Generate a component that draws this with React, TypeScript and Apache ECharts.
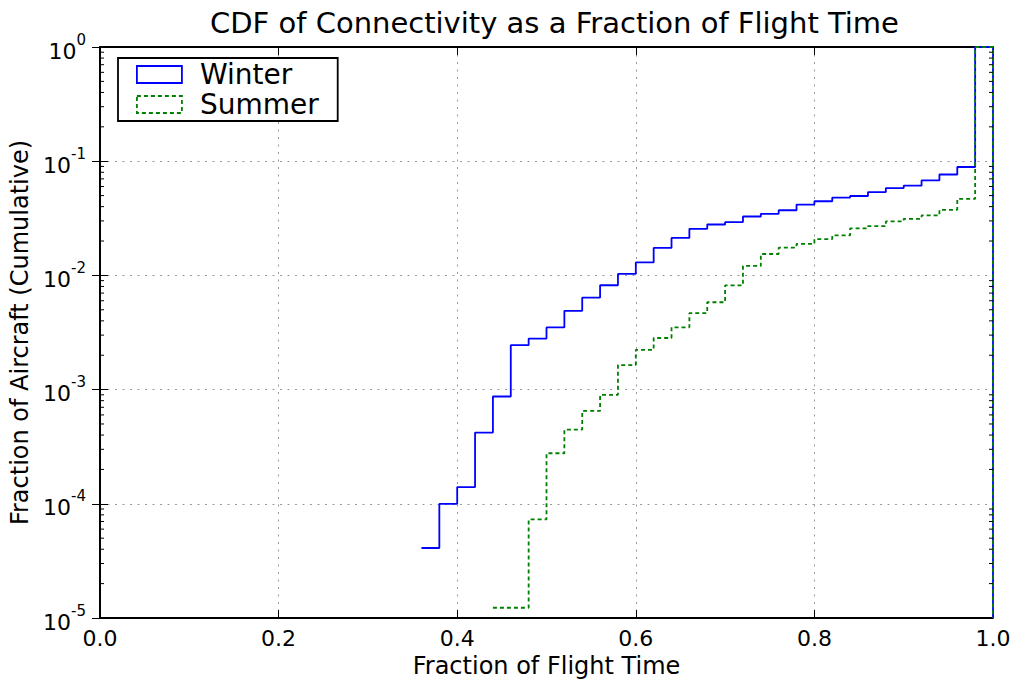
import React, { useEffect, useRef } from "react";
import * as echarts from "echarts";

const binWidth = 0.02;
// Winter: cumulative fraction per bin, bins starting at 0.36
const winterFirstBin = 0.36;
const winterValues = [
  4.1e-5, 1.0e-4, 1.4e-4, 4.2e-4, 8.7e-4, 2.45e-3, 2.8e-3, 3.5e-3, 4.9e-3, 6.4e-3,
  8.2e-3, 1.03e-2, 1.3e-2, 1.74e-2, 2.13e-2, 2.56e-2, 2.79e-2, 2.93e-2, 3.28e-2, 3.46e-2,
  3.72e-2, 4.17e-2, 4.46e-2, 4.8e-2, 4.96e-2, 5.37e-2, 5.82e-2, 6.1e-2, 6.79e-2, 7.65e-2,
  8.9e-2, 1.0,
];
// Summer: bins starting at 0.44
const summerFirstBin = 0.44;
const summerValues = [
  1.23e-5, 1.23e-5, 7.3e-5, 2.77e-4, 4.46e-4, 6.5e-4, 9.0e-4, 1.64e-3, 2.23e-3, 2.83e-3,
  3.51e-3, 4.68e-3, 5.82e-3, 8.18e-3, 1.21e-2, 1.54e-2, 1.75e-2, 1.89e-2, 2.08e-2, 2.24e-2,
  2.58e-2, 2.7e-2, 2.97e-2, 3.13e-2, 3.35e-2, 3.75e-2, 4.67e-2, 1.0,
];
const xTicks = [0.0, 0.2, 0.4, 0.6, 0.8, 1.0];
const yMin = 1e-5;
const yMax = 1;
const minorMantissas = [2, 3, 4, 5, 6, 7, 8, 9];
const decades = [-5, -4, -3, -2, -1];

const seriesNames = ["Winter", "Summer"];
const FONT = "DejaVu Sans";

function stepPoints(first: number, values: number[]) {
  const pts: number[][] = [];
  values.forEach((v, i) => {
    const x0 = +(first + i * binWidth).toFixed(4);
    const x1 = +(first + (i + 1) * binWidth).toFixed(4);
    pts.push([x0, v], [x1, v]);
  });
  const last = pts[pts.length - 1][0];
  pts.push([last, yMin]);
  return pts;
}

export default function App() {
  const ref = useRef<HTMLDivElement>(null);
  useEffect(() => {
    if (!ref.current) return;
    const chart = echarts.init(ref.current, null, { renderer: "svg" });
    const minorData: number[][] = [];
    decades.forEach((d) =>
      minorMantissas.forEach((m) => minorData.push([0, m * Math.pow(10, d)]))
    );
    const supLabel = (v: number) => {
      const e = Math.round(Math.log10(v));
      return `{b|10}{s|${e}}`;
    };
    const rich = {
      b: { fontSize: 22, fontFamily: FONT, color: "#000", verticalAlign: "bottom", lineHeight: 30 },
      s: { fontSize: 15, fontFamily: FONT, color: "#000", verticalAlign: "top", lineHeight: 30 },
    };
    const option: any = {
      animation: false,
      backgroundColor: "#fff",
      textStyle: { fontFamily: FONT },
      title: {
        text: "CDF of Connectivity as a Fraction of Flight Time",
        left: 205,
        top: 3,
        textStyle: { fontFamily: FONT, fontSize: 29, fontWeight: "normal", color: "#000" },
      },
      legend: {
        left: 118,
        top: 58,
        orient: "vertical",
        icon: "rect",
        itemWidth: 45,
        itemHeight: 17,
        itemGap: 2,
        padding: [2.5, 19, 2.5, 18],
        backgroundColor: "#fff",
        borderColor: "#000",
        borderWidth: 1.8,
        borderRadius: 0,
        textStyle: { fontFamily: FONT, fontSize: 28, color: "#000", lineHeight: 28, padding: [0, 0, 0, 13] },
        data: [
          { name: seriesNames[0], itemStyle: { color: "#fff", borderColor: "#0000ff", borderWidth: 1.8 } },
          {
            name: seriesNames[1],
            itemStyle: { color: "#fff", borderColor: "#008000", borderWidth: 1.8, borderType: [4, 3] },
          },
        ],
      },
      grid: { left: 100, right: 25, top: 47, bottom: 61, containLabel: false },
      xAxis: [
        {
          type: "value",
          min: xTicks[0],
          max: xTicks[xTicks.length - 1],
          interval: 0.2,
          name: "Fraction of Flight Time",
          nameLocation: "middle",
          nameGap: 36,
          nameTextStyle: { fontFamily: FONT, fontSize: 24, color: "#000" },
          axisLine: { show: true, lineStyle: { color: "#000", width: 1.8 } },
          axisTick: { show: true, inside: true, length: 8, lineStyle: { color: "#000", width: 1 } },
          axisLabel: {
            fontFamily: FONT,
            fontSize: 22,
            color: "#000",
            margin: 9,
            formatter: (v: number) => v.toFixed(1),
          },
          splitLine: { show: true, lineStyle: { color: "#999", width: 1, type: [2, 5.5] } },
        },
        {
          type: "value",
          position: "top",
          min: xTicks[0],
          max: xTicks[xTicks.length - 1],
          interval: 0.2,
          axisLine: { show: true, lineStyle: { color: "#000", width: 1.8 } },
          axisTick: { show: true, inside: true, length: 8, lineStyle: { color: "#000", width: 1 } },
          axisLabel: { show: false },
          splitLine: { show: false },
        },
      ],
      yAxis: [
        {
          type: "log",
          logBase: 10,
          min: yMin,
          max: yMax,
          name: "Fraction of Aircraft (Cumulative)",
          nameLocation: "middle",
          nameGap: 65,
          nameTextStyle: { fontFamily: FONT, fontSize: 24, color: "#000" },
          axisLine: { show: true, lineStyle: { color: "#000", width: 1.8 } },
          axisTick: { show: true, inside: true, length: 8, lineStyle: { color: "#000", width: 1 } },
          axisLabel: { margin: 14, formatter: supLabel, rich },
          splitLine: { show: true, lineStyle: { color: "#999", width: 1, type: [2, 5.5] } },
          minorTick: { show: false },
        },
        {
          type: "log",
          logBase: 10,
          position: "right",
          min: yMin,
          max: yMax,
          axisLine: { show: true, lineStyle: { color: "#000", width: 1.8 } },
          axisTick: { show: true, inside: true, length: 8, lineStyle: { color: "#000", width: 1 } },
          axisLabel: { show: false },
          splitLine: { show: false },
        },
      ],
      series: [
        {
          name: seriesNames[0],
          type: "line",
          data: stepPoints(winterFirstBin, winterValues),
          showSymbol: false,
          symbol: "none",
          lineStyle: { color: "#0000ff", width: 1.8 },
          itemStyle: { color: "#0000ff" },
          clip: true,
          z: 3,
        },
        {
          name: seriesNames[1],
          type: "line",
          data: stepPoints(summerFirstBin, summerValues),
          showSymbol: false,
          symbol: "none",
          lineStyle: { color: "#008000", width: 1.8, type: [4, 3] },
          itemStyle: { color: "#008000" },
          clip: true,
          z: 4,
        },
        {
          name: "minorTicks",
          type: "custom",
          silent: true,
          data: minorData,
          z: 5,
          renderItem: (params: any, api: any) => {
            const v = api.value(1);
            const p = api.coord([xTicks[0], v]);
            const q = api.coord([xTicks[xTicks.length - 1], v]);
            return {
              type: "group",
              children: [
                { type: "line", shape: { x1: p[0], y1: p[1], x2: p[0] + 4, y2: p[1] }, style: { stroke: "#000", lineWidth: 1 } },
                { type: "line", shape: { x1: q[0], y1: q[1], x2: q[0] - 4, y2: q[1] }, style: { stroke: "#000", lineWidth: 1 } },
              ],
            };
          },
        },
      ],
    };
    chart.setOption(option);
    return () => chart.dispose();
  }, []);
  return (
    <div
      ref={ref}
      style={{ position: "fixed", left: 0, top: 0, width: 1018, height: 683, background: "#fff" }}
    />
  );
}
